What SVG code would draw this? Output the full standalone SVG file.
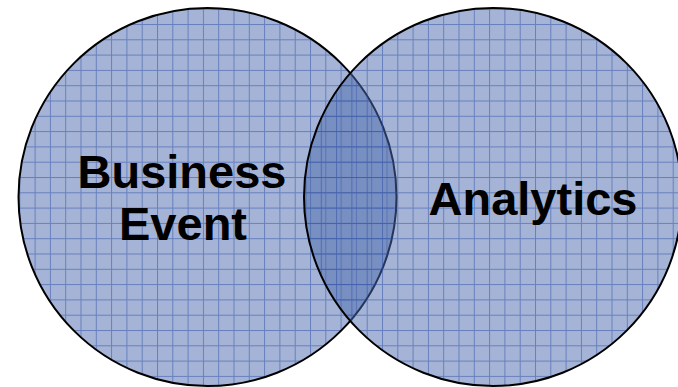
<svg xmlns="http://www.w3.org/2000/svg" width="678" height="387" viewBox="0 0 678 387">
<style>
.ring{stroke:#000;stroke-width:2}
.lbl{font-family:"Liberation Sans",Arial,sans-serif;font-weight:bold;font-size:47px;fill:#000;text-anchor:middle}
</style>
<defs>
<pattern id="gridL" patternUnits="userSpaceOnUse" x="4" y="8.7" width="15.3" height="15.3">
<rect x="0" y="0" width="15.3" height="15.3" fill="rgb(75,105,173)" fill-opacity="0.5"/>
<rect x="0" y="0" width="1" height="15.3" fill="rgb(40,75,165)" fill-opacity="0.5"/>
<rect x="1" y="0" width="14.3" height="1" fill="rgb(40,75,165)" fill-opacity="0.5"/>
</pattern>
<pattern id="gridR" patternUnits="userSpaceOnUse" x="-0.5" y="8.7" width="15.3" height="15.3">
<rect x="0" y="0" width="15.3" height="15.3" fill="rgb(75,105,173)" fill-opacity="0.5"/>
<rect x="0" y="0" width="1" height="15.3" fill="rgb(40,75,165)" fill-opacity="0.5"/>
<rect x="1" y="0" width="14.3" height="1" fill="rgb(40,75,165)" fill-opacity="0.5"/>
</pattern>
</defs>
<g id="business-event">
<circle class="ring" cx="207.5" cy="197" r="189" fill="url(#gridL)"/>
</g>
<g id="analytics">
<circle class="ring" cx="493" cy="197" r="189" fill="url(#gridR)"/>
</g>
<g id="labels">
<text class="lbl" x="182" y="188">Business</text>
<text class="lbl" x="183" y="240">Event</text>
<text class="lbl" x="533" y="215">Analytics</text>
</g>
</svg>
